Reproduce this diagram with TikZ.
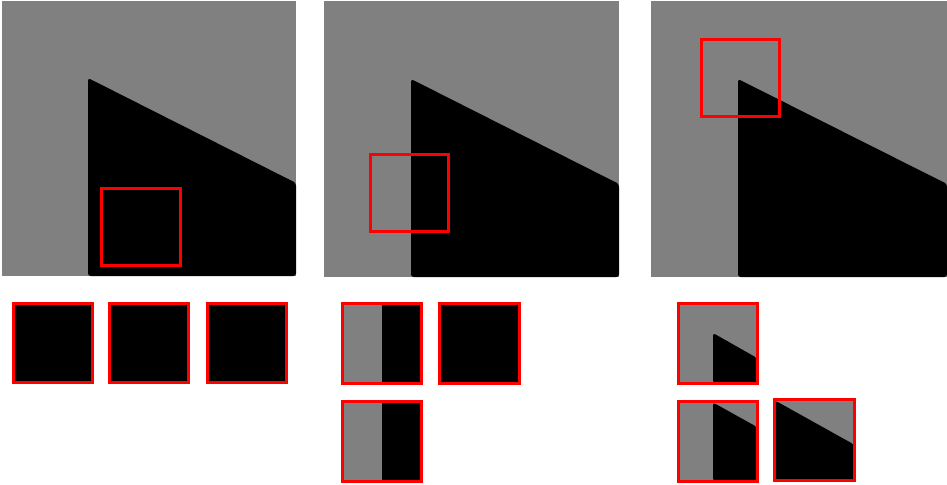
\documentclass[tikz,border=0pt]{standalone}
\usepackage{tikz}
\begin{document}
\begin{tikzpicture}[
    x=0.02cm, y=-0.02cm,
    bg/.style={fill=gray},
    obj/.style={fill=black, rounded corners=1.5},
    win/.style={draw=red, line width=1.7pt}
]
\useasboundingbox (0,0) rectangle (947,484);

% top row: images with the sampling window
\fill[bg] (2,1) rectangle (296,276);
\fill[obj] (88,276) -- (88,78) -- (296,183) -- (296,276) -- cycle;
\draw[win] (101.5,188.5) rectangle (180.5,265.5);

\fill[bg] (324,1) rectangle (619,277);
\fill[obj] (411,277) -- (411,79) -- (619,184) -- (619,277) -- cycle;
\draw[win] (370.5,154.5) rectangle (448.5,231.5);

\fill[bg] (651,1) rectangle (947,277);
\fill[obj] (738,277) -- (738,79) -- (947,184) -- (947,277) -- cycle;
\draw[win] (701.5,39.5) rectangle (779.5,116.5);

% bottom row: patches
\foreach \px in {12,108,206}{
  \fill[black] (\px+1.5,303.5) rectangle (\px+80.5,382.5);
  \draw[win] (\px+1.5,303.5) rectangle (\px+80.5,382.5);
}

\fill[bg] (342.5,303.5) rectangle (382,383.5);
\fill[black] (382,303.5) rectangle (421.5,383.5);
\draw[win] (342.5,303.5) rectangle (421.5,383.5);
\fill[black] (439.5,303.5) rectangle (519.5,383.5);
\draw[win] (439.5,303.5) rectangle (519.5,383.5);
\fill[bg] (342.5,401.5) rectangle (382,481.5);
\fill[black] (382,401.5) rectangle (421.5,481.5);
\draw[win] (342.5,401.5) rectangle (421.5,481.5);

\fill[bg] (678.5,303.5) rectangle (757.5,383.5);
\fill[obj] (713,383) -- (713,333) -- (757,358) -- (757,383) -- cycle;
\draw[win] (678.5,303.5) rectangle (757.5,383.5);

\fill[bg] (678.5,401.5) rectangle (757.5,481.5);
\fill[obj] (713,481) -- (713,402.5) -- (757,427) -- (757,481) -- cycle;
\draw[win] (678.5,401.5) rectangle (757.5,481.5);

\fill[bg] (774.5,399.5) rectangle (854.5,480.5);
\fill[obj] (775,480) -- (775,400.5) -- (854,444.5) -- (854,480) -- cycle;
\draw[win] (774.5,399.5) rectangle (854.5,480.5);
\end{tikzpicture}
\end{document}
